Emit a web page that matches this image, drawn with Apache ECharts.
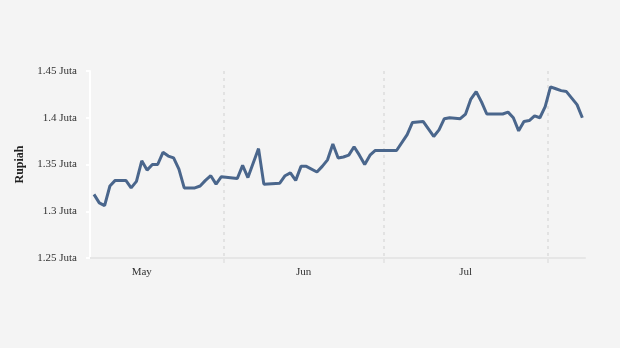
<!DOCTYPE html>
<html>
<head>
<meta charset="utf-8">
<script src="https://cdn.jsdelivr.net/npm/echarts@6/dist/echarts.min.js"></script>
<style>
  html, body { margin: 0; padding: 0; background: #f4f4f4; }
  #chart { width: 620px; height: 348px; }
</style>
</head>
<body>
<div id="chart"></div>
<script>
// Daily price, Rupiah (May – early August)
const YEAR = 2024;
const dates = [
  '05-07','05-08','05-09','05-10','05-11','05-13','05-14','05-15','05-16','05-17',
  '05-18','05-19','05-20','05-21','05-22','05-23','05-24','05-26','05-27','05-28',
  '05-29','05-30','05-31',
  '06-03','06-04','06-05','06-07','06-08','06-11','06-12','06-13','06-14','06-15',
  '06-16','06-18','06-19','06-20','06-21','06-22','06-23','06-24','06-25','06-26',
  '06-27','06-28','06-29',
  '07-03','07-05','07-06','07-08','07-10','07-11','07-12','07-13','07-15','07-16',
  '07-17','07-18','07-19','07-20','07-23','07-24','07-25','07-26','07-27','07-28',
  '07-29','07-30','07-31',
  '08-01','08-02','08-03','08-04','08-05','08-06','08-07'
];
const prices = [
  1318000,1309000,1306000,1327000,1333000,1333000,1325000,1332000,1354000,1344000,
  1350000,1350000,1363000,1359000,1357000,1345000,1325000,1325000,1327000,1333000,
  1338000,1329000,1337000,
  1335000,1349000,1336000,1367000,1329000,1330000,1338000,1341000,1333000,1348000,
  1348000,1342000,1348000,1355000,1372000,1357000,1358000,1360000,1369000,1360000,
  1350000,1360000,1365000,
  1365000,1382000,1395000,1396000,1380000,1387000,1399000,1400000,1399000,1404000,
  1420000,1428000,1417000,1404000,1404000,1406000,1400000,1386000,1396000,1397000,
  1402000,1400000,1412000,
  1433000,1431000,1429000,1428000,1421000,1414000,1400000
];
const monthNames = ['Jan','Feb','Mar','Apr','May','Jun','Jul','Aug','Sep','Oct','Nov','Dec'];
const yTicks = [1250000, 1300000, 1350000, 1400000, 1450000];

function ts(mmdd, hour) {
  const [m, d] = mmdd.split('-').map(Number);
  return new Date(YEAR, m - 1, d, hour || 0).getTime();
}

// month boundaries carry the dashed guide lines; labels sit at mid-month
const monthStarts = [ts('06-01'), ts('07-01'), ts('08-01')];
const monthMids = [4, 5, 6].map(m => {
  const a = new Date(YEAR, m, 1).getTime();
  const b = new Date(YEAR, m + 1, 1).getTime();
  return (a + b) / 2;
});

const seriesData = dates.map((d, i) => [ts(d, 12), prices[i]]);

const chart = echarts.init(document.getElementById('chart'), null, { renderer: 'canvas' });
chart.setOption({
  backgroundColor: '#f4f4f4',
  animation: false,
  grid: { left: 90, right: 35, top: 71, bottom: 90, containLabel: false },
  xAxis: {
    type: 'value',
    min: new Date(YEAR, 4, 6, 18).getTime(),
    max: new Date(YEAR, 7, 8, 0).getTime(),
    axisLine: { show: true, lineStyle: { color: '#e6e6e6', width: 2 } },
    axisTick: {
      show: true, customValues: monthStarts, length: 5,
      lineStyle: { color: '#e6e6e6', width: 2 }
    },
    splitLine: {
      show: true,
      lineStyle: { color: '#e2e2e2', width: 2, type: [3, 4] }
    },
    axisLabel: {
      customValues: monthMids,
      formatter: v => monthNames[new Date(v).getMonth()],
      color: '#333', fontFamily: 'Liberation Serif', fontSize: 11, margin: 9
    }
  },
  yAxis: {
    type: 'value',
    min: yTicks[0],
    max: yTicks[yTicks.length - 1],
    interval: 50000,
    name: 'Rupiah',
    nameLocation: 'middle',
    nameGap: 59,
    nameTextStyle: { fontFamily: 'Liberation Serif', fontWeight: 'bold', fontSize: 12, color: '#222' },
    axisLine: { show: true, lineStyle: { color: '#ffffff', width: 2 } },
    axisTick: { show: true, length: 4, lineStyle: { color: '#ffffff', width: 2 } },
    splitLine: { show: false },
    axisLabel: {
      formatter: v => (v / 1e6) + ' Juta',
      color: '#333', fontFamily: 'Liberation Serif', fontSize: 11, margin: 13
    }
  },
  series: [{
    type: 'line',
    data: seriesData,
    showSymbol: false,
    symbol: 'none',
    lineStyle: { color: '#4a668c', width: 3 },
    itemStyle: { color: '#4a668c' }
  }]
});
</script>
</body>
</html>
